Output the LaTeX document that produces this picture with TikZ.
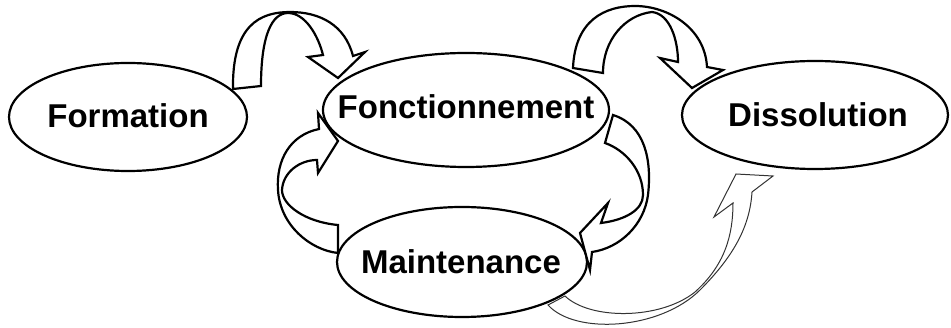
\documentclass[tikz,border=0pt]{standalone}
\usepackage{fontspec}
\setmainfont{Liberation Sans}
\usetikzlibrary{shapes.geometric}
\begin{document}
\begin{tikzpicture}[x=1pt,y=-1pt,
  stage/.style={ellipse,draw=black,line width=2.2pt,fill=white,inner sep=0pt},
  stagelabel/.style={font=\fontsize{33}{40}\selectfont\bfseries,inner sep=0pt},
  blockarrow/.style={draw=black,line width=2.2pt,fill=white,line join=miter},
  thinarrow/.style={draw=black!80,line width=1pt,fill=white,line join=miter}]
\useasboundingbox (0,0) rectangle (951,328);

% the four stages
\node[stage,minimum width=238pt,minimum height=108pt,
  label={[stagelabel,yshift=1pt]center:Formation}] (formation) at (128,117) {};
\node[stage,minimum width=286pt,minimum height=114pt,
  label={[stagelabel,yshift=3.5pt]center:Fonctionnement}] (fonct) at (466,110) {};
\node[stage,minimum width=266pt,minimum height=108pt,
  label={[stagelabel,xshift=3pt]center:Dissolution}] (dissol) at (815,115) {};
\node[stage,minimum width=250pt,minimum height=110pt,
  label={[stagelabel,xshift=-1pt]center:Maintenance}] (maint) at (462,262) {};

% Formation -> Fonctionnement
\draw[blockarrow] (233,89) -- (261,86)
  .. controls (261,35) and (272,13) .. (288,13)
  .. controls (305,13) and (318,35) .. (323,55)
  -- (308,57) -- (338,78) -- (365,52) -- (353,56)
  .. controls (345,25) and (320,12) .. (290,12)
  .. controls (260,12) and (232,25) .. (233,89) -- cycle;

% Fonctionnement -> Dissolution
\draw[blockarrow] (573,68) -- (603,73)
  .. controls (603,40) and (625,15) .. (652,12)
  .. controls (670,14) and (678,40) .. (678,62)
  -- (660,58) -- (692,88) -- (723,70) -- (707,67)
  .. controls (705,28) and (668,6) .. (635,6)
  .. controls (605,6) and (575,20) .. (573,68) -- cycle;

% Maintenance -> Fonctionnement
\draw[blockarrow] (338,253) -- (338,225)
  .. controls (305,222) and (282,205) .. (282,190)
  .. controls (283,172) and (300,160) .. (317,160)
  -- (318,173) -- (338,141) -- (318,113) -- (319,129)
  .. controls (290,135) and (276,160) .. (278,190)
  .. controls (280,225) and (310,250) .. (338,253) -- cycle;

% Fonctionnement -> Maintenance
\draw[blockarrow] (613,115) -- (605,143)
  .. controls (625,150) and (643,170) .. (643,195)
  .. controls (643,210) and (625,220) .. (601,223)
  -- (608,203) -- (580,233) -- (590,270) -- (592,252)
  .. controls (620,248) and (644,225) .. (648,195)
  .. controls (652,160) and (645,125) .. (613,115) -- cycle;

% Maintenance -> Dissolution
\draw[thinarrow] (548,305) -- (565,296)
  .. controls (590,320) and (660,320) .. (695,292)
  .. controls (725,265) and (733,235) .. (733,203)
  -- (714,217) -- (736,174) -- (773,176) -- (752,192)
  .. controls (750,225) and (735,255) .. (700,290)
  .. controls (660,330) and (575,335) .. (548,305) -- cycle;
\end{tikzpicture}
\end{document}
